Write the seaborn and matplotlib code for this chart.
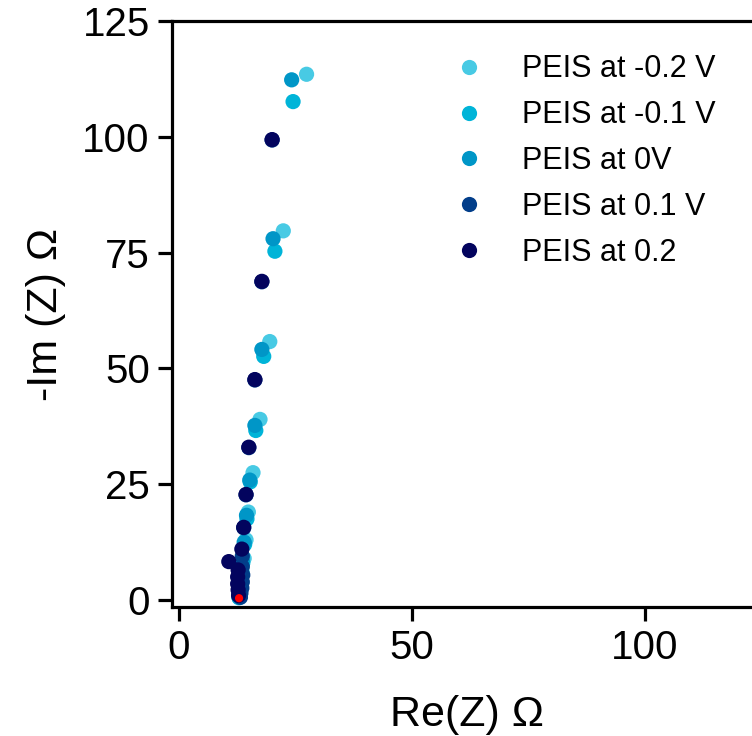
import matplotlib
matplotlib.use("Agg")
import matplotlib.pyplot as plt
import seaborn as sns
import pandas as pd

# Series labels and colours
labels = ["PEIS at -0.2 V", "PEIS at -0.1 V", "PEIS at 0V", "PEIS at 0.1 V", "PEIS at 0.2"]
colors = ["#48cae4", "#00b4d8", "#0096c7", "#023e8a", "#03045e"]

# Re(Z) / -Im(Z)
re_m02 = [12.9, 13.0, 13.1, 13.3, 13.6, 14.0, 14.4, 14.9, 15.9, 17.4, 19.5, 22.4, 27.4]
im_m02 = [0.8, 1.5, 2.5, 4.0, 6.0, 9.0, 13.0, 19.0, 27.5, 39.0, 55.8, 79.7, 113.5]

re_m01 = [12.9, 12.9, 13.0, 13.2, 13.4, 13.7, 14.1, 14.6, 15.3, 16.5, 18.2, 20.6, 24.5]
im_m01 = [0.5, 1.2, 2.2, 3.5, 5.5, 8.0, 12.0, 17.5, 25.5, 36.6, 52.6, 75.3, 107.6]

re_0 = [12.9, 12.9, 13.0, 13.1, 13.3, 13.6, 14.0, 14.5, 15.2, 16.3, 17.8, 20.2, 24.2]
im_0 = [0.6, 1.4, 2.4, 3.8, 5.8, 8.5, 12.5, 18.3, 25.9, 37.7, 54.1, 78.0, 112.3]

re_p01 = [13.2, 13.3, 13.5, 13.6, 13.7, 13.6, 13.6, 13.9, 14.4, 15.0, 16.3, 17.8, 20.0]
im_p01 = [0.6, 1.5, 2.6, 3.9, 5.4, 7.2, 9.5, 15.6, 22.7, 32.9, 47.5, 68.7, 99.3]

re_p02 = [12.8, 12.7, 12.6, 12.6, 12.7, 10.7, 13.5, 13.9, 14.4, 15.0, 16.3, 17.8, 20.0]
im_p02 = [1.0, 2.2, 3.5, 5.0, 6.5, 8.3, 11.0, 15.7, 22.8, 33.0, 47.6, 68.8, 99.4]

# first point, highlighted red
re_first = [12.9]
im_first = [0.4]

all_re = [re_m02, re_m01, re_0, re_p01, re_p02]
all_im = [im_m02, im_m01, im_0, im_p01, im_p02]

frames = []
for lab, xs, ys in zip(labels, all_re, all_im):
    frames.append(pd.DataFrame({"re": xs, "im": ys, "series": lab}))
df = pd.concat(frames, ignore_index=True)

sns.set_style("ticks")
plt.rcParams["font.family"] = ["Liberation Sans", "DejaVu Sans"]
plt.rcParams["text.color"] = "black"
plt.rcParams["axes.labelcolor"] = "black"
plt.rcParams["xtick.color"] = "black"
plt.rcParams["ytick.color"] = "black"

fig = plt.figure(figsize=(7.52, 7.36), dpi=100)
# axes box runs past the right edge of the figure, as in the reference
ax = fig.add_axes([172 / 752, 129 / 736, 589 / 752, 586 / 736])

sns.scatterplot(data=df, x="re", y="im", hue="series", hue_order=labels,
                palette=colors, s=120, edgecolor="none", linewidth=0, ax=ax)
ax.scatter(re_first, im_first, s=35, color="red", edgecolor="none", zorder=5)

ax.set_xlim(-1.5, 125)
ax.set_ylim(-1.5, 125)
ax.set_xticks([0, 50, 100])
ax.set_yticks([0, 25, 50, 75, 100, 125])

for side in ["left", "bottom", "top", "right"]:
    ax.spines[side].set_linewidth(2.3)
    ax.spines[side].set_color("black")
ax.tick_params(axis="both", length=10, width=2.3, labelsize=29, pad=6,
               color="black", labelcolor="black")

ax.set_xlabel("Re(Z) Ω", fontsize=31, labelpad=20)
ax.set_ylabel("-Im (Z) Ω", fontsize=31, labelpad=12)

leg = ax.legend(loc="upper left", bbox_to_anchor=(0.405, 0.99), frameon=False,
                fontsize=22, handletextpad=0.75, labelspacing=0.52, markerscale=1.0)

plt.savefig("out.png", dpi=100)
plt.close()
